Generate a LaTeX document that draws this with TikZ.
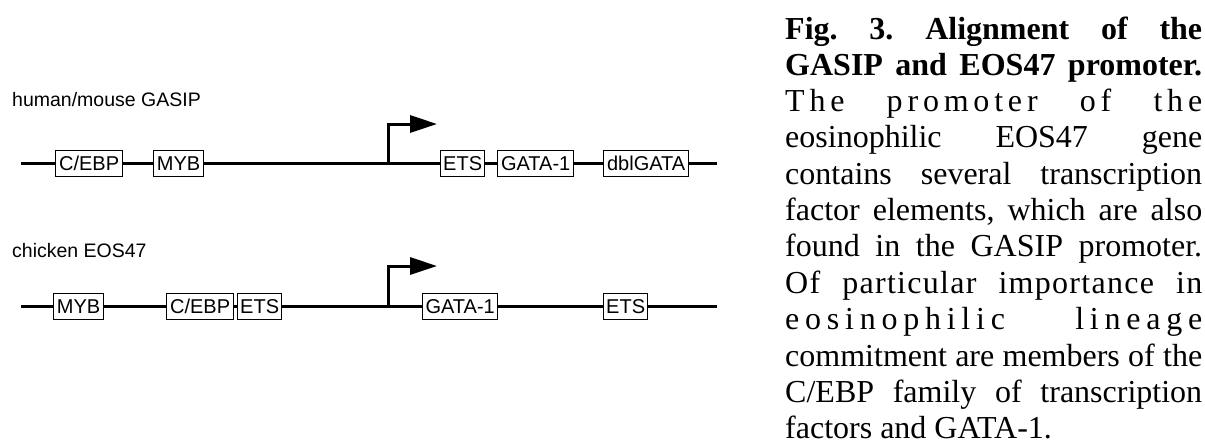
\documentclass[tikz,border=0pt]{standalone}
\usepackage{fontspec}
\setmainfont{Liberation Serif}
\newfontfamily\diagfont{Liberation Sans}
\usetikzlibrary{arrows.meta}
\begin{document}
\frenchspacing
\begin{tikzpicture}[x=1pt,y=-1pt,
  dna/.style={line width=3pt},
  site/.style={draw,line width=1.3pt,fill=white,font=\diagfont\fontsize{20}{20}\selectfont,inner xsep=1pt,inner ysep=0pt,minimum height=25.5pt,anchor=west},
  lbl/.style={font=\diagfont\fontsize{19.5}{20}\selectfont,anchor=base west,inner sep=0pt},
  captxt/.style={font=\fontsize{32}{36}\selectfont,anchor=base west,inner sep=0pt},
  prom/.style={line width=3pt,line join=miter,-{Triangle[length=27pt,width=17pt]}}
]
\useasboundingbox (0,0) rectangle (1205,445);

% labels
\node[lbl] (l1) at (12,106) {human/mouse GASIP};
\node[lbl] (l2) at (12,257) {chicken EOS47};

% top row
\coordinate (t0) at (21,163.5);
\coordinate (t1) at (717,163.5);
\coordinate (tp) at (388,163.5);
\coordinate (ta) at (437,124);
\node[site,minimum width=67pt] (tc) at (55,163.5) {C/EBP};
\node[site,minimum width=50pt] (tm) at (153,163.5) {MYB};
\node[site,minimum width=44pt] (te) at (440,163.5) {ETS};
\node[site,minimum width=76pt] (tg) at (497,163.5) {GATA-1};
\node[site,minimum width=85pt] (td) at (603,163.5) {dblGATA};
\draw[dna] (t0) -- (tc.west) (tc.east) -- (tm.west) (tm.east) -- (te.west)
  (te.east) -- (tg.west) (tg.east) -- (td.west) (td.east) -- (t1);
\draw[prom] (tp) |- (ta);

% bottom row
\coordinate (b0) at (21,306.5);
\coordinate (b1) at (717,306.5);
\coordinate (bp) at (388,306.5);
\coordinate (ba) at (437,266);
\node[site,minimum width=50pt] (bm) at (53,306.5) {MYB};
\node[site,minimum width=67pt] (bc) at (166,306.5) {C/EBP};
\node[site,minimum width=44pt] (be) at (237,306.5) {ETS};
\node[site,minimum width=75pt] (bg) at (422,306.5) {GATA-1};
\node[site,minimum width=44pt] (bf) at (603,306.5) {ETS};
\draw[dna] (b0) -- (bm.west) (bm.east) -- (bc.west) (bc.east) -- (be.west)
  (be.east) -- (bg.west) (bg.east) -- (bf.west) (bf.east) -- (b1);
\draw[prom] (bp) |- (ba);

% caption
\node[captxt] (c1) at (785,39.5) {\makebox[417pt][s]{\bfseries Fig. 3. Alignment of the}};
\node[captxt] (c2) at (785,75.5) {\makebox[417pt][s]{\bfseries GASIP and EOS47 promoter.}};
\node[captxt] (c3) at (785,111.5) {\makebox[417pt][s]{\addfontfeature{LetterSpace=15}The promoter of the}};
\node[captxt] (c4) at (785,147.7) {\makebox[417pt][s]{eosinophilic EOS47 gene}};
\node[captxt] (c5) at (785,184.1) {\makebox[417pt][s]{contains several transcription}};
\node[captxt] (c6) at (785,220.5) {\makebox[417pt][s]{factor elements, which are also}};
\node[captxt] (c7) at (785,256.9) {\makebox[417pt][s]{found in the GASIP promoter.}};
\node[captxt] (c8) at (785,293.3) {\makebox[417pt][s]{\addfontfeature{LetterSpace=4}Of particular importance in}};
\node[captxt] (c9) at (785,329.7) {\makebox[417pt][s]{\addfontfeature{LetterSpace=18}eosinophilic lineage}};
\node[captxt] (c10) at (785,366.1) {\makebox[417pt][s]{commitment are members of the}};
\node[captxt] (c11) at (785,402.5) {\makebox[417pt][s]{C/EBP family of transcription}};
\node[captxt] (c12) at (785,438.9) {factors and GATA-1.};
\end{tikzpicture}
\end{document}
